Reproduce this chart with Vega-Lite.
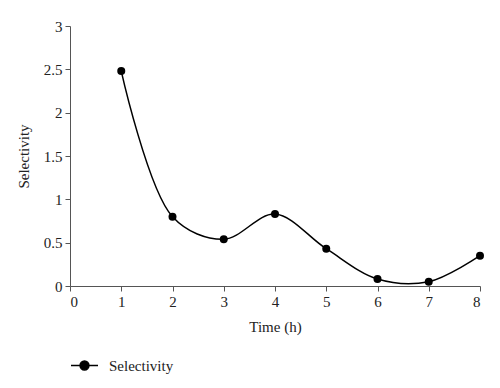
{
  "$schema": "https://vega.github.io/schema/vega-lite/v6.json",
  "autosize": "none",
  "width": 410,
  "height": 260,
  "padding": {"left": 70, "top": 26, "right": 20, "bottom": 102},
  "background": "white",
  "config": {
    "view": {"stroke": null},
    "font": "Liberation Serif",
    "axis": {
      "grid": false,
      "domainColor": "#555",
      "tickColor": "#555",
      "tickSize": 5,
      "labelFont": "Liberation Serif",
      "labelFontSize": 15,
      "labelColor": "#222",
      "titleFont": "Liberation Serif",
      "titleFontSize": 15,
      "titleFontWeight": "normal",
      "titleColor": "#222"
    }
  },
  "data": {
    "values": [
      {"time": 1, "selectivity": 2.48, "series": "Selectivity"},
      {"time": 2, "selectivity": 0.80, "series": "Selectivity"},
      {"time": 3, "selectivity": 0.54, "series": "Selectivity"},
      {"time": 4, "selectivity": 0.83, "series": "Selectivity"},
      {"time": 5, "selectivity": 0.43, "series": "Selectivity"},
      {"time": 6, "selectivity": 0.08, "series": "Selectivity"},
      {"time": 7, "selectivity": 0.05, "series": "Selectivity"},
      {"time": 8, "selectivity": 0.35, "series": "Selectivity"}
    ]
  },
  "encoding": {
    "x": {
      "field": "time", "type": "quantitative",
      "scale": {"domain": [0, 8], "nice": false},
      "axis": {"title": "Time (h)", "values": [0,1,2,3,4,5,6,7,8], "labelPadding": 3, "titlePadding": 10}
    },
    "y": {
      "field": "selectivity", "type": "quantitative",
      "scale": {"domain": [0, 3], "nice": false},
      "axis": {"title": "Selectivity", "values": [0,0.5,1,1.5,2,2.5,3], "format": "~g", "labelPadding": 3, "titlePadding": 12}
    }
  },
  "layer": [
    {
      "mark": {"type": "line", "interpolate": "catmull-rom", "strokeWidth": 1.5},
      "encoding": {
        "color": {
          "field": "series", "type": "nominal",
          "scale": {"range": ["black"]},
          "legend": {
            "title": null,
            "orient": "none",
            "legendX": 0,
            "legendY": 325,
            "symbolType": "M-1,0H1M-0.33,0A0.33,0.33 0 1,0 0.33,0A0.33,0.33 0 1,0 -0.33,0",
            "symbolSize": 729,
            "symbolFillColor": "black",
            "symbolStrokeColor": "black",
            "symbolStrokeWidth": 1.5,
            "labelFont": "Liberation Serif",
            "labelFontSize": 15,
            "labelColor": "#222",
            "labelOffset": 10
          }
        }
      }
    },
    {
      "mark": {"type": "point", "filled": true, "size": 64, "color": "black", "opacity": 1}
    }
  ]
}
